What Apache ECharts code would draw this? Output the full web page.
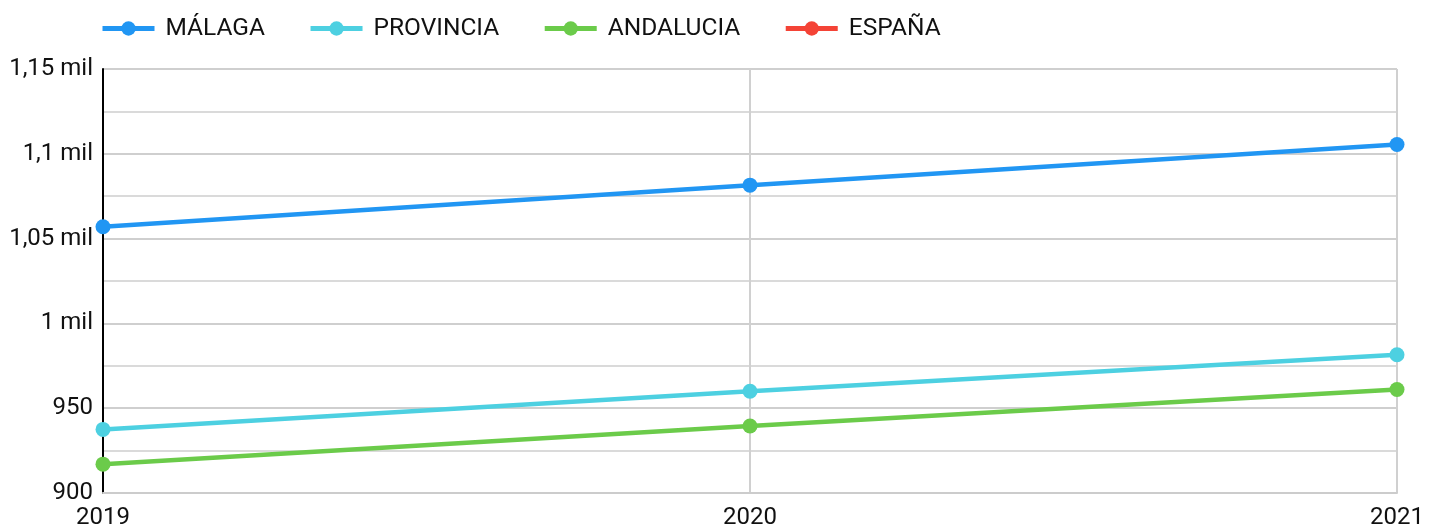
<!DOCTYPE html>
<html><head><meta charset="utf-8">
<script src="https://cdn.jsdelivr.net/npm/echarts@6/dist/echarts.min.js"></script>
<style>html,body{margin:0;padding:0;background:#fff}#c{width:1439px;height:530px}</style>
</head><body><div id="c"></div>
<script>
const categories = ['2019', '2020', '2021'];
const malaga = [1057, 1081.5, 1105.5];
const provincia = [937.5, 960, 981.5];
const andalucia = [917, 939.5, 961];
const espana = [null, null, null];
const seriesNames = ['MÁLAGA', 'PROVINCIA', 'ANDALUCIA', 'ESPAÑA'];
const seriesColors = ['#2196f3', '#4dd0e1', '#6bcb4a', '#f44336'];
const yTickLabels = {900: '900', 950: '950', 1000: '1 mil', 1050: '1,05 mil', 1100: '1,1 mil', 1150: '1,15 mil'};

const values = [malaga, provincia, andalucia, espana];
const chart = echarts.init(document.getElementById('c'));
chart.setOption({
  animation: false,
  textStyle: { fontFamily: 'Roboto' },
  legend: {
    left: 95, top: 11,
    itemWidth: 52, itemHeight: 18, itemGap: 43,
    lineStyle: { width: 5 },
    textStyle: { fontSize: 24.5, color: '#111', fontFamily: 'Roboto', padding: [0, 0, 0, 6] },
    data: seriesNames
  },
  grid: { left: 103, right: 42, top: 69, bottom: 36 },
  xAxis: {
    type: 'category', data: categories, boundaryGap: false,
    axisLine: { show: true, lineStyle: { color: '#cccccc', width: 2 } },
    axisTick: { show: false },
    axisLabel: { fontSize: 24, color: '#111', margin: 13, fontFamily: 'Roboto' },
    splitLine: { show: true, lineStyle: { color: '#d0d0d0', width: 2 } }
  },
  yAxis: {
    type: 'value', min: 900, max: 1150, interval: 50,
    axisLine: { show: true, lineStyle: { color: '#000', width: 2 } },
    axisTick: { show: false },
    axisLabel: { fontSize: 24, color: '#111', margin: 10, fontFamily: 'Roboto',
      formatter: v => yTickLabels[v] !== undefined ? yTickLabels[v] : '' },
    splitLine: { show: true, lineStyle: { color: '#cfcfcf', width: 2 } },
    minorTick: { show: false, splitNumber: 2 },
    minorSplitLine: { show: true, lineStyle: { color: '#dadada', width: 2 } }
  },
  series: seriesNames.map((n, i) => ({
    name: n, type: 'line', data: values[i],
    color: seriesColors[i],
    lineStyle: { width: 4.5, color: seriesColors[i] },
    itemStyle: { color: seriesColors[i] },
    symbol: 'circle', symbolSize: 15, showSymbol: true
  }))
});
</script></body></html>
